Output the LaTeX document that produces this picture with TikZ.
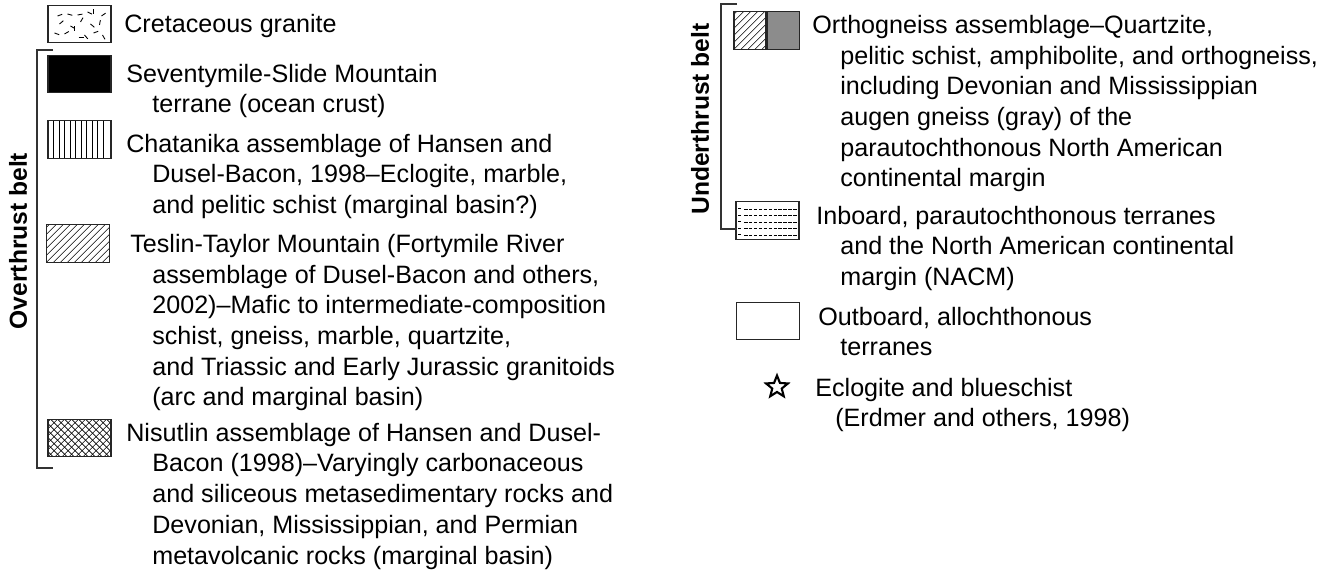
\documentclass[tikz,border=0pt]{standalone}
\usepackage{fontspec}
\setmainfont{Liberation Sans}
\usetikzlibrary{calc}
\usetikzlibrary{shapes.geometric}

% behuzas a folytatosorokhoz
\newcommand{\indl}{\hspace*{0.52cm}}
\newcommand{\indr}{\hspace*{0.56cm}}

\begin{document}
\begin{tikzpicture}[
    x=0.02cm, y=-0.02cm, % 1 egyseg = 1 kepPont
    % --- Saját stílusok ---
    swatch/.style = {draw=black!85, line width=0.8pt, minimum width=1.26cm,
                     minimum height=0.75cm, inner sep=0pt},       % jelmagyarazat doboz
    hatch/.style = {black, line width=0.4pt},                     % satirozas vonal
    legtext/.style = {anchor=base west, align=left, inner sep=0pt,
                      font=\fontsize{14.3}{17.5}\selectfont},     % magyarazo szoveg (utolso sor alapvonala)
    beltlabel/.style = {rotate=90, font=\fontsize{14}{16}\selectfont\bfseries}, % oldalcimke
    bracket/.style = {draw=black!80, line width=0.6pt},           % zarojel
    vlines/.style = {path picture={
        \foreach \i in {5.5,11,...,60}
            \draw[hatch] ($(path picture bounding box.south west)+(\i,0)$)
                      -- +(0,-40);}},
    dlines/.style = {path picture={
        \foreach \i in {-42,-35,...,70}
            \draw[hatch] ($(path picture bounding box.south west)+(\i,0)$)
                      -- +(42,-42);}},
    xlines/.style = {path picture={
        \foreach \i in {-42,-35,...,70} {
            \draw[hatch] ($(path picture bounding box.south west)+(\i,0)$)
                      -- +(42,-42);
            \draw[hatch] ($(path picture bounding box.south west)+(\i,-40)$)
                      -- +(42,42);}}},
    hdash/.style = {path picture={
        \foreach \j in {4,10.5,...,36} {
            \draw[hatch, dash pattern=on 2pt off 0.8pt]
                ($(path picture bounding box.south west)+(8,-\j)$) -- +(55,0);
            \draw[hatch, line width=0.6pt]
                ($(path picture bounding box.south west)+(2,-\j-0.5)$) -- +(3,0);}}},
    granite/.style = {path picture={
        \foreach \dx/\dy/\a in {-22/-8/20, -12/-10/-15, -2/-9/10, 8/-12/-25, 14/-10/90,
                                22/-8/35, -20/0/40, -9/2/-30, 1/-2/60, 11/0/-40,
                                20/1/80, -25/9/-20, -15/10/30, -5/7/90, 5/11/-50,
                                14/9/20, 23/11/-60, -1/13/0}
            \draw[hatch, line width=0.5pt]
                ($(path picture bounding box.center)+(\dx,\dy)$)
                -- +({5*cos(\a)},{-5*sin(\a)});}}
    ]

    % --- Vaskeret ---
    \useasboundingbox (0,0) rectangle (1330,580);

    % --- Bal oszlop: jelmagyarazat dobozok ---
    \node[swatch, granite]            (granite)   at (79.5,24)  {};
    \node[swatch, fill=black]         (seventy)   at (79.5,74)  {};
    \node[swatch, vlines]             (chatanika) at (79.5,139.5) {};
    \node[swatch, dlines]             (teslin)    at (78,243.5) {};
    \node[swatch, xlines]             (nisutlin)  at (79.5,438) {};

    % --- Bal oszlop: szovegek (alapvonal = utolso sor) ---
    \node[legtext] (granitetxt) at (124,33) {Cretaceous granite};
    \node[legtext] (seventytxt) at (126,82+30.8)
        {Seventymile-Slide Mountain\\\indl terrane (ocean crust)};
    \node[legtext] (chatanikatxt) at (126,152+2*30.8)
        {Chatanika assemblage of Hansen and\\
         \indl Dusel-Bacon, 1998--Eclogite, marble,\\
         \indl and pelitic schist (marginal basin?)};
    \node[legtext] (teslintxt) at (130,252+5*30.8)
        {Teslin-Taylor Mountain (Fortymile River\\
         \hspace*{0.44cm}assemblage of Dusel-Bacon and others,\\
         \hspace*{0.44cm}2002)--Mafic to intermediate-composition\\
         \hspace*{0.44cm}schist, gneiss, marble, quartzite,\\
         \hspace*{0.44cm}and Triassic and Early Jurassic granitoids\\
         \hspace*{0.44cm}(arc and marginal basin)};
    \node[legtext] (nisutlintxt) at (126,441+4*30.8)
        {Nisutlin assemblage of Hansen and Dusel-\\
         \indl Bacon (1998)--Varyingly carbonaceous\\
         \indl and siliceous metasedimentary rocks and\\
         \indl Devonian, Mississippian, and Permian\\
         \indl metavolcanic rocks (marginal basin)};

    % --- Overthrust zarojel ---
    \coordinate (otop) at (37,50);
    \coordinate (obot) at (37,468);
    \draw[bracket] ($(otop)+(16,0)$) -- (otop) -- (obot) -- ($(obot)+(16,0)$);
    \node[beltlabel] (over) at (18,241) {Overthrust belt};

    % --- Jobb oszlop: dobozok ---
    \node[swatch, minimum width=0.64cm, dlines] (orthoa) at (750,30.5) {};
    \node[swatch, minimum width=0.64cm, fill=black!45, anchor=west] (orthob)
        at (orthoa.east) {};
    \node[swatch, hdash]   (inboard)  at (767.5,220.5) {};
    \node[swatch]          (outboard) at (768,321) {};
    \node[star, star points=5, star point ratio=2.3, draw, line width=1.2pt,
          minimum size=0.46cm, inner sep=0pt] (eclogite) at (777,387) {};

    % --- Jobb oszlop: szovegek ---
    \node[legtext] (orthotxt) at (812,33+5*30.8)
        {Orthogneiss assemblage--Quartzite,\\
         \indr pelitic schist, amphibolite, and orthogneiss,\\
         \indr including Devonian and Mississippian\\
         \indr augen gneiss (gray) of the\\
         \indr parautochthonous North American\\
         \indr continental margin};
    \node[legtext] (inboardtxt) at (816,224+2*30.8)
        {Inboard, parautochthonous terranes\\
         \hspace*{0.48cm}and the North American continental\\
         \hspace*{0.48cm}margin (NACM)};
    \node[legtext] (outboardtxt) at (818,325+30.8)
        {Outboard, allochthonous\\\hspace*{0.44cm}terranes};
    \node[legtext] (eclogitetxt) at (815,396+30.8)
        {Eclogite and blueschist\\\hspace*{0.4cm}(Erdmer and others, 1998)};

    % --- Underthrust zarojel ---
    \coordinate (utop) at (721,4);
    \coordinate (ubot) at (721,229);
    \draw[bracket] ($(utop)+(16,0)$) -- (utop) -- (ubot) -- ($(ubot)+(16,0)$);
    \node[beltlabel] (under) at (700,119) {Underthrust belt};
\end{tikzpicture}
\end{document}
